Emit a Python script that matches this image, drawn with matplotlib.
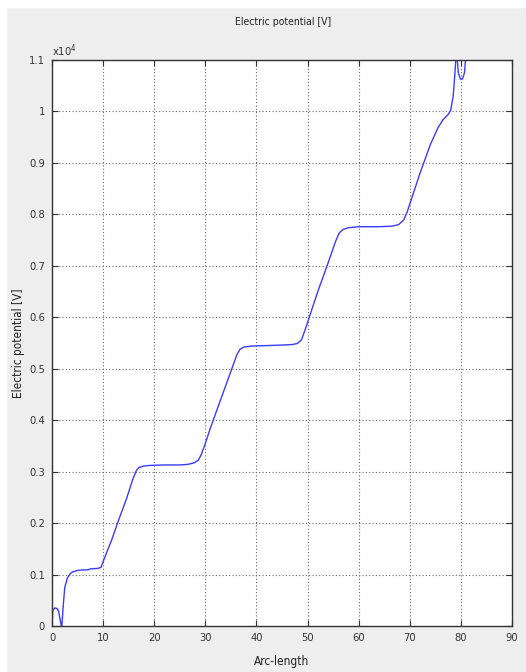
import matplotlib
matplotlib.use("Agg")
import matplotlib.pyplot as plt
from matplotlib.patches import Rectangle

plt.rcParams['font.family'] = ['DejaVu Sans']
plt.rcParams['font.stretch'] = 'condensed'

# arc-length and potential (units of 1e4 V)
arc = [0, 0.15, 0.5, 1.0, 1.3, 1.6, 1.9, 2.2, 2.5, 3.0, 3.5, 4.0, 5.0, 6.0, 7.0,
       7.5, 9.0, 9.6, 10.0, 10.5, 11.7, 13.0, 14.5, 15.8, 16.5, 17.0, 18.0, 19.0,
       22.0, 25.0, 26.5, 27.8, 28.6, 29.2, 30.0, 31.0, 33.0, 35.0, 36.2, 36.8,
       37.5, 39.0, 42.0, 45.0, 47.0, 48.0, 48.8, 49.5, 50.5, 52.0, 54.0, 55.5,
       56.2, 57.0, 58.0, 60.0, 64.0, 66.5, 67.8, 68.8, 69.5, 70.5, 72.0, 74.0,
       75.5, 76.5, 77.5, 78.0, 78.5, 78.8, 79.0, 79.15, 79.3, 79.5, 79.9, 80.3,
       80.7, 80.9, 81.0]
pot = [0, 0.030, 0.035, 0.034, 0.028, 0.012, -0.004, 0.040, 0.075, 0.093, 0.101,
       0.105, 0.108, 0.109, 0.109, 0.111, 0.112, 0.114, 0.125, 0.138, 0.168,
       0.205, 0.245, 0.285, 0.302, 0.308, 0.311, 0.312, 0.313, 0.313, 0.314,
       0.317, 0.322, 0.333, 0.355, 0.385, 0.440, 0.495, 0.528, 0.538, 0.542,
       0.544, 0.545, 0.546, 0.547, 0.549, 0.556, 0.575, 0.605, 0.650, 0.705,
       0.748, 0.764, 0.771, 0.774, 0.776, 0.776, 0.777, 0.780, 0.789, 0.805,
       0.835, 0.880, 0.935, 0.968, 0.984, 0.994, 1.002, 1.030, 1.070, 1.100,
       1.120, 1.100, 1.075, 1.063, 1.063, 1.075, 1.100, 1.120]

xticks = list(range(0, 91, 10))
yticks = [0, 0.1, 0.2, 0.3, 0.4, 0.5, 0.6, 0.7, 0.8, 0.9, 1, 1.1]
ytick_labels = ['0', '0.1', '0.2', '0.3', '0.4', '0.5', '0.6', '0.7', '0.8', '0.9', '1', '1.1']

fig = plt.figure(figsize=(5.26, 6.72), dpi=100, facecolor='#eeeeee')
# white strips at left/top edge of the screenshot
fig.patches.append(Rectangle((0, 0), 6 / 526, 1, transform=fig.transFigure, color='white', zorder=0))
fig.patches.append(Rectangle((0, 1 - 7 / 672), 1, 7 / 672, transform=fig.transFigure, color='white', zorder=0))

ax = fig.add_axes([52 / 526, 46 / 672, 460 / 526, 566 / 672])
ax.plot(arc, pot, color='#3b3bff', lw=1.0)

ax.set_xlim(0, 90)
ax.set_ylim(0, 1.1)
ax.set_xticks(xticks)
ax.set_yticks(yticks)
ax.set_yticklabels(ytick_labels)
ax.tick_params(direction='in', length=4, width=0.8, top=True, right=True,
               labelsize=8, labelcolor='#333333', color='#333333', pad=5)
ax.grid(True, linestyle=(0, (1, 2)), color='#666666', lw=0.8)
for s in ax.spines.values():
    s.set_color('#333333')
    s.set_linewidth(1.0)

fig.text(283 / 526, 1 - 22 / 672, 'Electric potential [V]', fontsize=7.5,
         color='#222222', ha='center', va='center')
ax.set_xlabel('Arc-length', fontsize=8.5, color='#222222')
ax.xaxis.set_label_coords(0.5, -36 / 566, transform=ax.transAxes)
ax.xaxis.label.set_va('center')
ax.set_ylabel('Electric potential [V]', fontsize=8.5, color='#222222')
ax.yaxis.set_label_coords(-33 / 460, 0.5, transform=ax.transAxes)
ax.yaxis.label.set_va('center')
ax.text(0.0, 1.002, r'x10$^4$', transform=ax.transAxes, fontsize=8,
        color='#333333', ha='left', va='bottom')

fig.savefig('out.png', dpi=100, facecolor=fig.get_facecolor())
